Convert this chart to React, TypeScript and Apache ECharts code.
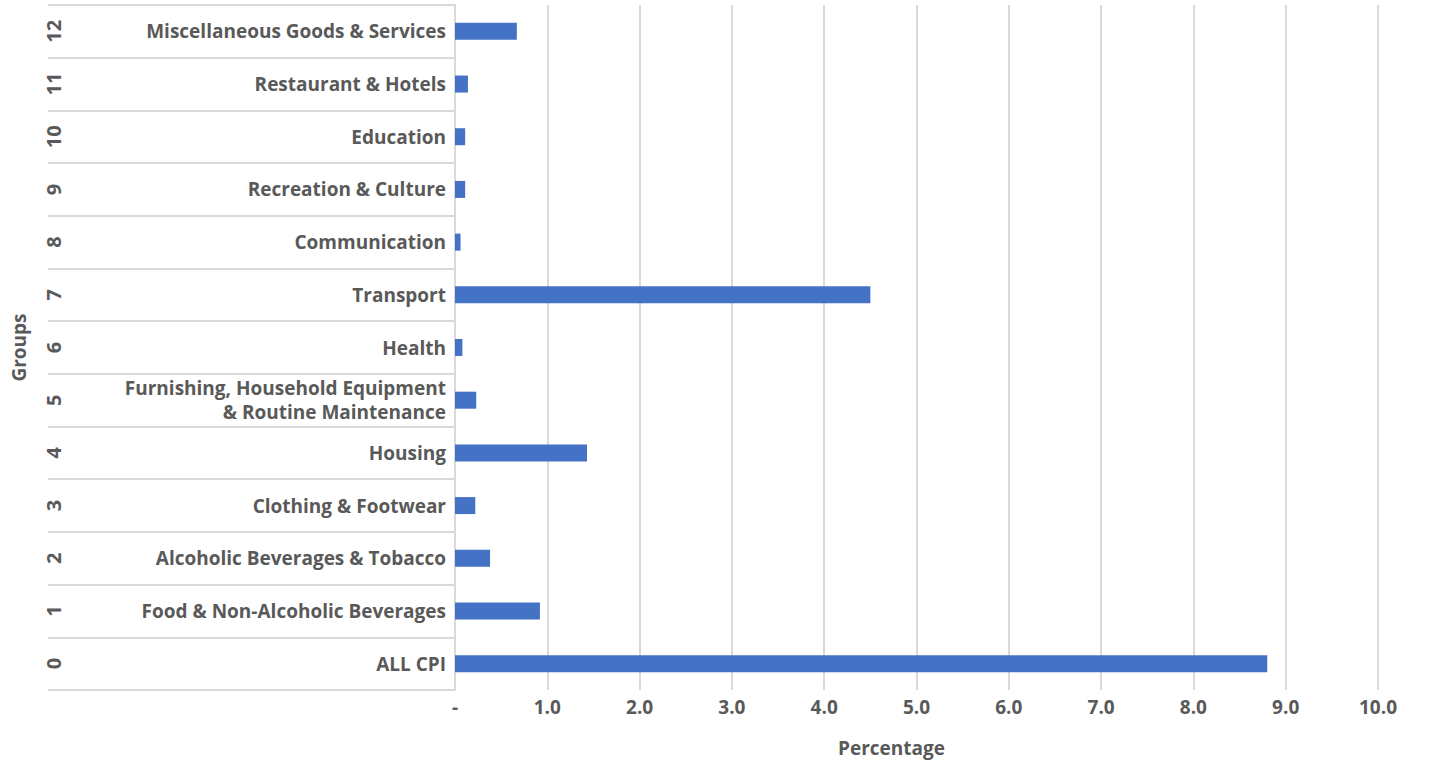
import React, { useEffect, useRef } from "react";
import * as echarts from "echarts";

const groupNumbers = ["0", "1", "2", "3", "4", "5", "6", "7", "8", "9", "10", "11", "12"];
const categories = [
  "ALL CPI",
  "Food & Non-Alcoholic Beverages",
  "Alcoholic Beverages & Tobacco",
  "Clothing & Footwear",
  "Housing",
  "Furnishing, Household Equipment\n& Routine Maintenance",
  "Health",
  "Transport",
  "Communication",
  "Recreation & Culture",
  "Education",
  "Restaurant & Hotels",
  "Miscellaneous Goods & Services",
];
const percentages = [8.8, 0.92, 0.38, 0.22, 1.43, 0.23, 0.08, 4.5, 0.06, 0.11, 0.11, 0.14, 0.67];
const xMin = 0;
const xMax = 10;
const xInterval = 1;

const FONT = "Open Sans";
const TEXT = "#595959";
const GRID = "#d9d9d9";

export default function App() {
  const ref = useRef<HTMLDivElement>(null);
  useEffect(() => {
    if (!ref.current) return;
    const chart = echarts.init(ref.current, null, { renderer: "svg" });
    chart.setOption({
      animation: false,
      backgroundColor: "#ffffff",
      grid: { left: 455, right: 59, top: 5, bottom: 77, containLabel: false },
      xAxis: {
        type: "value",
        min: xMin,
        max: xMax,
        interval: xInterval,
        name: "Percentage",
        nameLocation: "middle",
        nameGap: 48,
        nameTextStyle: { color: TEXT, fontFamily: FONT, fontWeight: "bold", fontSize: 19, padding: [0, 50, 0, 0] },
        axisLine: { show: false },
        axisTick: { show: false },
        axisLabel: {
          color: TEXT,
          fontFamily: FONT,
          fontWeight: "bold",
          fontSize: 19,
          margin: 7,
          formatter: (v: number) => (v === 0 ? "-" : v.toFixed(1)),
        },
        splitLine: { show: true, lineStyle: { color: GRID, width: 2 } },
      },
      yAxis: [
        {
          type: "category",
          data: categories,
          position: "left",
          axisLine: { show: true, lineStyle: { color: GRID, width: 2 } },
          axisTick: { show: true, length: 407, lineStyle: { color: GRID, width: 2 } },
          axisLabel: {
            interval: 0,
            color: TEXT,
            fontFamily: FONT,
            fontWeight: "bold",
            fontSize: 19,
            lineHeight: 24,
            margin: 9,
            align: "right",
          },
          splitLine: { show: false },
        },
        {
          type: "category",
          data: groupNumbers,
          position: "left",
          offset: 0,
          name: "Groups",
          nameLocation: "middle",
          nameGap: 427,
          nameRotate: 90,
          nameTextStyle: { color: TEXT, fontFamily: FONT, fontWeight: "bold", fontSize: 19 },
          axisLine: { show: false },
          axisTick: { show: false },
          axisLabel: {
            interval: 0,
            rotate: 90,
            color: TEXT,
            fontFamily: FONT,
            fontWeight: "bold",
            fontSize: 20,
            margin: 392,
          },
          splitLine: { show: false },
        },
      ],
      series: [
        {
          type: "bar",
          yAxisIndex: 0,
          data: percentages,
          barWidth: 17,
          itemStyle: { color: "#4472C4" },
        },
      ],
    });
    return () => chart.dispose();
  }, []);
  return (
    <div
      ref={ref}
      style={{ position: "fixed", left: 0, top: 0, width: 1437, height: 767 }}
    />
  );
}
